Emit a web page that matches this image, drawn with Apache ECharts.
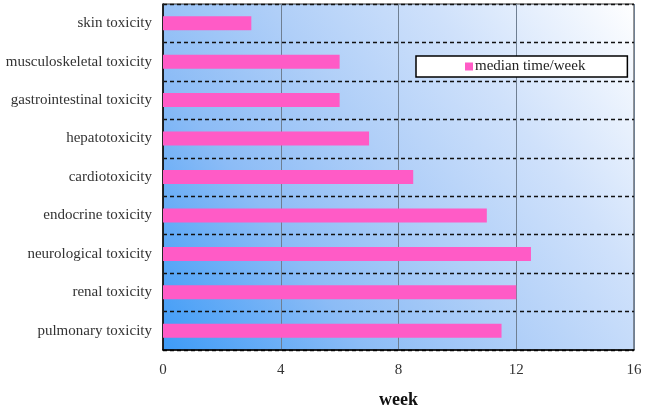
<!DOCTYPE html>
<html>
<head>
<meta charset="utf-8">
<script src="https://cdn.jsdelivr.net/npm/echarts@6/dist/echarts.min.js"></script>
<style>html,body{margin:0;padding:0;background:#fff}#c{width:645px;height:414px}</style>
</head>
<body>
<div id="c"></div>
<script>
var categories = ["skin toxicity","musculoskeletal toxicity","gastrointestinal toxicity","hepatotoxicity","cardiotoxicity","endocrine toxicity","neurological toxicity","renal toxicity","pulmonary toxicity"];
var medianWeeks = [3, 6, 6, 7, 8.5, 11, 12.5, 12, 11.5];
var xTicks = [0, 4, 8, 12, 16];
var seriesName = "median time/week";

var chart = echarts.init(document.getElementById('c'));
var font = "'Liberation Serif', 'Times New Roman', serif";
chart.setOption({
  animation: false,
  textStyle: {fontFamily: font},
  grid: {
    left: 163, right: 11, top: 4, bottom: 50,
    show: true,
    borderColor: '#333',
    borderWidth: 1,
    backgroundColor: {
      type: 'linear', x: 0, y: 1, x2: 1, y2: 0,
      colorStops: [
        {offset: 0, color: '#3d9bf7'},
        {offset: 0.28, color: '#8cbcf6'},
        {offset: 0.5, color: '#b0cff8'},
        {offset: 0.72, color: '#cfe1fb'},
        {offset: 1, color: '#ffffff'}
      ]
    }
  },
  legend: {
    data: [seriesName],
    left: 416, top: 56,
    backgroundColor: '#fff',
    borderColor: '#000',
    borderWidth: 1.5,
    padding: [3, 42, 3, 49],
    itemWidth: 8, itemHeight: 8,
    itemGap: 0,
    textStyle: {fontFamily: font, fontSize: 15, color: '#222', padding: [0, 0, 0, -3]},
    icon: 'rect'
  },
  xAxis: {
    type: 'value',
    min: xTicks[0], max: xTicks[xTicks.length - 1], interval: 4,
    name: 'week', nameLocation: 'middle', nameGap: 41,
    nameTextStyle: {fontFamily: font, fontSize: 18, fontWeight: 'bold', color: '#111'},
    axisLine: {show: true, lineStyle: {color: '#000', width: 1.5}},
    axisTick: {show: false},
    axisLabel: {fontFamily: font, fontSize: 15, color: '#333', margin: 13},
    splitLine: {show: true, lineStyle: {color: '#6f7f92', width: 1}}
  },
  yAxis: {
    type: 'category',
    data: categories,
    inverse: true,
    axisLine: {show: true, lineStyle: {color: '#000', width: 1.5}},
    axisTick: {show: false},
    axisLabel: {fontFamily: font, fontSize: 15, color: '#333', margin: 11},
    splitLine: {show: true, lineStyle: {color: '#111', type: [4, 3], width: 1.3}}
  },
  series: [{
    name: seriesName,
    type: 'bar',
    data: medianWeeks,
    barWidth: 14,
    itemStyle: {color: '#ff5bc6'}
  }]
});
</script>
</body>
</html>
